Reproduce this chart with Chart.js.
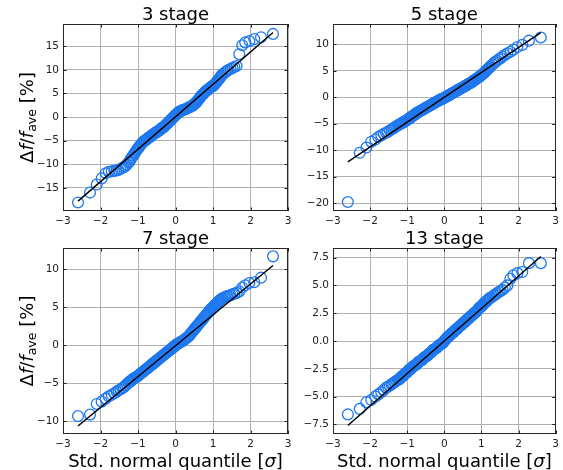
<!DOCTYPE html>
<html>
<head>
<meta charset="utf-8">
<script src="https://cdn.jsdelivr.net/npm/chart.js@4"></script>
<style>
  html, body { margin: 0; padding: 0; background: #fff; }
  #wrap { position: relative; width: 563px; height: 470px; }
  #wrap canvas { position: absolute; left: 0; top: 0; }
</style>
</head>
<body>
<div id="wrap">
  <canvas id="p3" width="563" height="470"></canvas>
  <canvas id="p5" width="563" height="470"></canvas>
  <canvas id="p7" width="563" height="470"></canvas>
  <canvas id="p13" width="563" height="470"></canvas>
</div>
<script>
// Theoretical standard-normal quantiles (x) shared by every panel
const quantileX = [-2.60,-2.28,-2.10,-1.97,-1.86,-1.78,-1.70,-1.63,-1.57,-1.52,-1.47,-1.42,-1.38,-1.34,-1.30,
  -1.250,-1.225,-1.200,-1.175,-1.150,-1.125,-1.100,-1.075,-1.050,-1.025,
  -1.000,-0.975,-0.950,-0.925,-0.900,-0.875,-0.850,-0.825,-0.800,-0.775,
  -0.750,-0.725,-0.700,-0.675,-0.650,-0.625,-0.600,-0.575,-0.550,-0.525,
  -0.500,-0.475,-0.450,-0.425,-0.400,-0.375,-0.350,-0.325,-0.300,-0.275,
  -0.250,-0.225,-0.200,-0.175,-0.150,-0.125,-0.100,-0.075,-0.050,-0.025,
  0.000,
  0.025,0.050,0.075,0.100,0.125,0.150,0.175,0.200,0.225,0.250,
  0.275,0.300,0.325,0.350,0.375,0.400,0.425,0.450,0.475,0.500,
  0.525,0.550,0.575,0.600,0.625,0.650,0.675,0.700,0.725,0.750,
  0.775,0.800,0.825,0.850,0.875,0.900,0.925,0.950,0.975,1.000,
  1.025,1.050,1.075,1.100,1.125,1.150,1.175,1.200,1.225,1.250,
  1.30,1.34,1.38,1.42,1.47,1.52,1.57,1.63,1.70,1.78,1.86,1.97,2.10,2.28,2.60];

// Ordered frequency deviation Δf/f_ave [%] for each ring length
const stage3 = [-18.1,-16.0,-14.3,-13.0,-11.9,-11.6,-11.5,-11.4,-11.3,-11.2,-11.0,-10.8,-10.6,-10.4,-10.1,
  -9.6,-9.4,-9.0,-8.7,-8.4,-8.1,-7.8,-7.5,-7.2,-6.9,
  -6.6,-6.4,-6.1,-5.8,-5.6,-5.4,-5.2,-5.0,-4.9,-4.8,
  -4.6,-4.4,-4.3,-4.2,-4.0,-3.8,-3.7,-3.6,-3.4,-3.3,
  -3.2,-3.0,-2.9,-2.8,-2.6,-2.4,-2.3,-2.2,-2.0,-1.8,
  -1.6,-1.4,-1.2,-1.0,-0.8,-0.6,-0.4,-0.2,0.0,0.2,
  0.4,
  0.6,0.8,1.0,1.1,1.2,1.3,1.4,1.5,1.55,1.6,
  1.7,1.8,1.9,2.0,2.1,2.2,2.3,2.4,2.5,2.7,
  2.9,3.1,3.3,3.6,3.8,4.1,4.4,4.6,4.8,5.0,
  5.2,5.4,5.6,5.7,5.9,6.0,6.2,6.3,6.5,6.6,
  6.8,7.0,7.2,7.5,7.7,8.0,8.2,8.5,8.8,9.0,
  9.3,9.6,9.8,10.0,10.2,10.4,10.6,10.8,13.3,15.2,15.8,16.1,16.5,16.9,17.6];
const stage5 = [-19.8,-10.5,-9.5,-8.4,-8.0,-7.5,-7.2,-6.9,-6.7,-6.5,-6.3,-6.1,-5.9,-5.7,-5.5,
  -5.3,-5.2,-5.1,-5.0,-4.9,-4.8,-4.7,-4.6,-4.5,-4.4,
  -4.3,-4.15,-4.0,-3.9,-3.8,-3.65,-3.5,-3.4,-3.3,-3.15,
  -3.0,-2.9,-2.8,-2.7,-2.6,-2.5,-2.4,-2.3,-2.2,-2.1,
  -2.0,-1.9,-1.8,-1.7,-1.6,-1.5,-1.4,-1.3,-1.2,-1.1,
  -1.0,-0.9,-0.8,-0.7,-0.6,-0.5,-0.4,-0.35,-0.3,-0.2,
  -0.1,
  0.0,0.1,0.2,0.3,0.4,0.5,0.6,0.7,0.8,0.9,
  1.0,1.1,1.2,1.3,1.4,1.5,1.6,1.7,1.8,1.9,
  2.0,2.1,2.2,2.3,2.4,2.5,2.6,2.7,2.8,2.9,
  3.05,3.2,3.3,3.4,3.55,3.7,3.8,3.9,4.05,4.2,
  4.35,4.5,4.65,4.8,5.0,5.2,5.35,5.5,5.7,5.9,
  6.2,6.5,6.7,6.9,7.2,7.4,7.7,8.0,8.3,8.6,9.0,9.5,9.9,10.7,11.3];
const stage7 = [-9.3,-9.1,-7.7,-7.4,-7.0,-6.7,-6.5,-6.3,-6.1,-5.9,-5.8,-5.6,-5.5,-5.3,-5.1,
  -4.9,-4.8,-4.7,-4.6,-4.5,-4.4,-4.3,-4.25,-4.2,-4.1,
  -4.0,-3.9,-3.8,-3.7,-3.6,-3.5,-3.4,-3.3,-3.2,-3.1,
  -3.0,-2.9,-2.8,-2.7,-2.6,-2.5,-2.4,-2.3,-2.2,-2.1,
  -2.0,-1.9,-1.8,-1.7,-1.6,-1.5,-1.4,-1.3,-1.2,-1.1,
  -1.0,-0.9,-0.8,-0.7,-0.6,-0.5,-0.4,-0.3,-0.2,-0.1,
  0.0,
  0.1,0.2,0.25,0.3,0.4,0.5,0.55,0.6,0.7,0.8,
  0.9,1.0,1.1,1.2,1.35,1.5,1.65,1.8,1.95,2.1,
  2.25,2.4,2.55,2.7,2.85,3.0,3.15,3.3,3.45,3.6,
  3.75,3.9,4.05,4.2,4.35,4.5,4.65,4.8,4.9,5.0,
  5.15,5.3,5.4,5.5,5.65,5.8,5.9,6.0,6.1,6.2,
  6.3,6.4,6.5,6.5,6.6,6.7,6.8,6.9,7.1,7.6,7.9,8.2,8.3,8.9,11.7];
const stage13 = [-6.6,-6.1,-5.5,-5.3,-5.0,-4.8,-4.6,-4.4,-4.2,-4.1,-4.0,-3.9,-3.8,-3.7,-3.6,
  -3.5,-3.45,-3.4,-3.3,-3.2,-3.15,-3.1,-3.0,-2.9,-2.85,
  -2.8,-2.7,-2.6,-2.55,-2.5,-2.4,-2.3,-2.25,-2.2,-2.15,
  -2.1,-2.0,-1.9,-1.85,-1.8,-1.75,-1.7,-1.6,-1.5,-1.45,
  -1.4,-1.35,-1.3,-1.2,-1.1,-1.05,-1.0,-0.9,-0.8,-0.75,
  -0.7,-0.65,-0.6,-0.5,-0.4,-0.35,-0.3,-0.25,-0.2,-0.1,
  0.0,
  0.1,0.2,0.3,0.4,0.45,0.5,0.6,0.7,0.75,0.8,
  0.9,1.0,1.05,1.1,1.2,1.3,1.35,1.4,1.5,1.6,
  1.65,1.7,1.8,1.9,1.95,2.0,2.1,2.2,2.25,2.3,
  2.4,2.5,2.55,2.6,2.7,2.8,2.9,3.0,3.05,3.1,
  3.2,3.3,3.4,3.5,3.55,3.6,3.7,3.8,3.85,3.9,
  4.0,4.1,4.2,4.3,4.4,4.5,4.6,4.8,5.0,5.6,5.9,6.1,6.2,7.0,7.0];

// Least-squares reference lines: end points at the extreme quantiles
const fitX = [-2.60, 2.60];
const fit3 = [-17.8, 17.9];
const fit5 = [-12.2, 12.2];
const fit7 = [-10.6, 10.5];
const fit13 = [-7.6, 7.6];

// Axis ticks and limits
const xTicks = [-3, -2, -1, 0, 1, 2, 3];
const yTicks3 = [-15, -10, -5, 0, 5, 10, 15];
const yTicks5 = [-20, -15, -10, -5, 0, 5, 10];
const yTicks7 = [-10, -5, 0, 5, 10];
const yTicks13 = [-7.5, -5, -2.5, 0, 2.5, 5, 7.5];
const yRange3 = [-19.9, 19.7];
const yRange5 = [-21.5, 13.85];
const yRange7 = [-11.65, 12.8];
const yRange13 = [-8.36, 8.36];
const panelTitles = ['3 stage', '5 stage', '7 stage', '13 stage'];

// Page layout of the 2x2 grid (plot-area rectangles in canvas pixels)
const W = 563, H = 470, Y_AXIS_W = 40, X_AXIS_H = 20;
const FONT = "'DejaVu Sans', 'Liberation Sans', sans-serif";
const panels = [
  { id: 'p3',  title: panelTitles[0], ys: stage3,  fit: fit3,  ticks: yTicks3,  range: yRange3,  dec: 0,
    area: { left: 63,  top: 24,  right: 288, bottom: 211 }, yLabel: true,  xLabel: false },
  { id: 'p5',  title: panelTitles[1], ys: stage5,  fit: fit5,  ticks: yTicks5,  range: yRange5,  dec: 0,
    area: { left: 333, top: 24,  right: 558, bottom: 211 }, yLabel: false, xLabel: false },
  { id: 'p7',  title: panelTitles[2], ys: stage7,  fit: fit7,  ticks: yTicks7,  range: yRange7,  dec: 0,
    area: { left: 63,  top: 248, right: 288, bottom: 434 }, yLabel: true,  xLabel: true },
  { id: 'p13', title: panelTitles[3], ys: stage13, fit: fit13, ticks: yTicks13, range: yRange13, dec: 1,
    area: { left: 333, top: 248, right: 558, bottom: 434 }, yLabel: false, xLabel: true }
];

const fmt = (dec) => (v) => (v < 0 ? '\u2212' : '') + Math.abs(v).toFixed(dec);

// Draw a run of text pieces (font / vertical shift) centred on x = 0
function drawRuns(ctx, runs) {
  let total = 0;
  runs.forEach(r => { ctx.font = r.font; r.w = ctx.measureText(r.t).width; total += r.w; });
  let x = -total / 2;
  runs.forEach(r => { ctx.font = r.font; ctx.fillText(r.t, x, r.dy || 0); x += r.w; });
}

function decorPlugin(p) {
  return {
    id: 'decor_' + p.id,
    afterDraw(chart) {
      const ctx = chart.ctx, a = chart.chartArea;
      const sx = chart.scales.x, sy = chart.scales.y;
      ctx.save();
      // inward tick marks on all four sides
      ctx.strokeStyle = '#222';
      ctx.lineWidth = 1;
      ctx.beginPath();
      xTicks.forEach(v => {
        const px = Math.round(sx.getPixelForValue(v)) + 0.5;
        ctx.moveTo(px, a.bottom); ctx.lineTo(px, a.bottom - 3.5);
        ctx.moveTo(px, a.top); ctx.lineTo(px, a.top + 3.5);
      });
      p.ticks.forEach(v => {
        const py = Math.round(sy.getPixelForValue(v)) + 0.5;
        ctx.moveTo(a.left, py); ctx.lineTo(a.left + 3.5, py);
        ctx.moveTo(a.right, py); ctx.lineTo(a.right - 3.5, py);
      });
      ctx.stroke();
      // frame
      ctx.strokeStyle = '#262626';
      ctx.strokeRect(Math.round(a.left) + 0.5, Math.round(a.top) + 0.5,
                     Math.round(a.right - a.left) - 1, Math.round(a.bottom - a.top) - 1);
      // title
      ctx.fillStyle = '#000';
      ctx.textAlign = 'left';
      ctx.textBaseline = 'alphabetic';
      ctx.translate((a.left + a.right) / 2, a.top - 4);
      drawRuns(ctx, [{ t: p.title, font: '18px ' + FONT }]);
      ctx.restore();

      if (p.xLabel) {
        ctx.save();
        ctx.fillStyle = '#000';
        ctx.textBaseline = 'alphabetic';
        ctx.translate((a.left + a.right) / 2, a.bottom + 33);
        drawRuns(ctx, [
          { t: 'Std. normal quantile [', font: '18px ' + FONT },
          { t: '\u03c3', font: 'italic 18px ' + FONT },
          { t: ']', font: '18px ' + FONT }
        ]);
        ctx.restore();
      }
      if (p.yLabel) {
        ctx.save();
        ctx.fillStyle = '#000';
        ctx.textBaseline = 'alphabetic';
        ctx.translate(33, (a.top + a.bottom) / 2);
        ctx.rotate(-Math.PI / 2);
        drawRuns(ctx, [
          { t: '\u0394', font: '18px ' + FONT },
          { t: 'f', font: 'italic 18px ' + FONT },
          { t: '/', font: '18px ' + FONT },
          { t: 'f', font: 'italic 18px ' + FONT },
          { t: 'ave', font: '12.6px ' + FONT, dy: 3 },
          { t: ' [%]', font: '18px ' + FONT }
        ]);
        ctx.restore();
      }
    }
  };
}

panels.forEach(p => {
  const pts = quantileX.map((x, i) => ({ x: x, y: p.ys[i] }));
  const line = fitX.map((x, i) => ({ x: x, y: p.fit[i] }));
  const a = p.area;
  new Chart(document.getElementById(p.id), {
    type: 'scatter',
    data: {
      datasets: [
        { type: 'line', data: line, borderColor: '#000', borderWidth: 1.5, pointRadius: 0,
          fill: false, order: 0 },
        { data: pts, pointStyle: 'circle', pointRadius: 5.4, pointBorderWidth: 1.3,
          pointBorderColor: 'rgb(30,120,240)', pointBackgroundColor: 'rgba(0,0,0,0)',
          showLine: false, order: 1 }
      ]
    },
    options: {
      responsive: false,
      animation: false,
      devicePixelRatio: 1,
      events: [],
      layout: {
        autoPadding: false,
        padding: { left: a.left - Y_AXIS_W, top: a.top, right: W - a.right, bottom: H - a.bottom - X_AXIS_H }
      },
      plugins: { legend: { display: false }, tooltip: { enabled: false }, title: { display: false } },
      scales: {
        x: {
          type: 'linear', min: -3, max: 3,
          afterBuildTicks: s => { s.ticks = xTicks.map(v => ({ value: v })); },
          afterFit: s => { s.height = X_AXIS_H; },
          ticks: { callback: fmt(0), color: '#222', padding: 4, maxRotation: 0, autoSkip: false,
                   font: { family: FONT, size: 10.5 } },
          grid: { color: '#b0b0b0', lineWidth: 1, drawTicks: false },
          border: { display: false }
        },
        y: {
          type: 'linear', min: p.range[0], max: p.range[1],
          afterBuildTicks: s => { s.ticks = p.ticks.map(v => ({ value: v })); },
          afterFit: s => { s.width = Y_AXIS_W; },
          ticks: { callback: fmt(p.dec), color: '#222', padding: 4, autoSkip: false,
                   font: { family: FONT, size: 10.5 } },
          grid: { color: '#b0b0b0', lineWidth: 1, drawTicks: false },
          border: { display: false }
        }
      }
    },
    plugins: [decorPlugin(p)]
  });
});
</script>
</body>
</html>
